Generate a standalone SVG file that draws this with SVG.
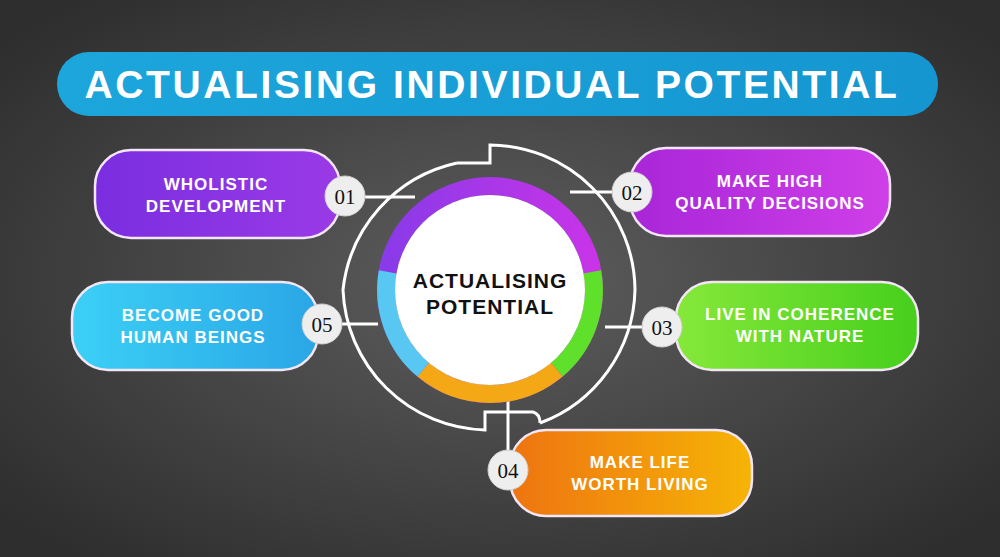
<svg xmlns="http://www.w3.org/2000/svg" width="1000" height="557" viewBox="0 0 1000 557">
<defs>
<radialGradient id="bg" cx="50%" cy="50%" r="65%"><stop offset="0" stop-color="#5e5e5e"/><stop offset="1" stop-color="#2e2e2e"/></radialGradient>
<linearGradient id="tb" x1="0" x2="1"><stop offset="0" stop-color="#1ca6dc"/><stop offset="1" stop-color="#1596d0"/></linearGradient>
<linearGradient id="g1" x1="0" x2="1"><stop offset="0" stop-color="#7a2ee0"/><stop offset="1" stop-color="#9a3ae6"/></linearGradient>
<linearGradient id="g2" x1="0" x2="1"><stop offset="0" stop-color="#a826d8"/><stop offset="1" stop-color="#cf3fe8"/></linearGradient>
<linearGradient id="g5" x1="0" x2="1"><stop offset="0" stop-color="#3bd0f6"/><stop offset="1" stop-color="#2aa6e6"/></linearGradient>
<linearGradient id="g3" x1="0" x2="1"><stop offset="0" stop-color="#86e83a"/><stop offset="1" stop-color="#46cf1c"/></linearGradient>
<linearGradient id="g4" x1="0" x2="1"><stop offset="0" stop-color="#ee7410"/><stop offset="1" stop-color="#f6b406"/></linearGradient>
<linearGradient id="rp" x1="0" x2="1"><stop offset="0" stop-color="#8a3ae8"/><stop offset="1" stop-color="#c834e8"/></linearGradient>
</defs>
<style>
.pill{stroke:#f3e6f6;stroke-width:2.5}
.lbl{font-family:"Liberation Sans",Arial,sans-serif;font-weight:bold;font-size:17px;fill:#fff;text-anchor:middle;letter-spacing:1px}
.num{fill:#eeeeee;stroke:#cfcfcf;stroke-width:1}
.nt{font-family:"Liberation Serif","Times New Roman",serif;font-size:21px;fill:#111;text-anchor:middle}
.ln{stroke:#fff;stroke-width:3;fill:none}
</style>
<rect width="1000" height="557" fill="url(#bg)"/>
<rect x="57" y="52" width="881" height="64" rx="32" fill="url(#tb)"/>
<text x="492" y="98" font-family="Liberation Sans,Arial,sans-serif" font-weight="bold" font-size="39" fill="#fff" text-anchor="middle" letter-spacing="2.6">ACTUALISING INDIVIDUAL POTENTIAL</text>

<g id="connectors" class="ln">
<path d="M457,163 L490,163 L490,145 A146,146 0 0 1 635,290 A146,146 0 0 1 540,423"/>
<path d="M457,163 A146,146 0 0 0 343,290 A146,146 0 0 0 485,430 L485,412 L533,412 Q540,414 540,423"/>
<line x1="365" y1="197" x2="415" y2="197"/>
<line x1="570" y1="192" x2="612" y2="192"/>
<line x1="342" y1="324" x2="378" y2="324"/>
<line x1="605" y1="327" x2="642" y2="327"/>
<line x1="508" y1="398" x2="508" y2="452"/>
</g>

<g id="center">
<circle cx="490" cy="290" r="104" fill="none" stroke="url(#rp)" stroke-width="18"/>
<path d="M592.3,271.9 A104,104 0 0 1 556.8,369.7" fill="none" stroke="#5fe02a" stroke-width="18"/>
<path d="M556.8,369.7 A104,104 0 0 1 423.2,369.7" fill="none" stroke="#f5a816" stroke-width="18"/>
<path d="M423.2,369.7 A104,104 0 0 1 387.7,271.9" fill="none" stroke="#58c8f2" stroke-width="18"/>
<circle cx="490" cy="290" r="95" fill="#fff"/>
<text class="lbl" x="490" y="288" style="fill:#111;font-size:21px">ACTUALISING</text>
<text class="lbl" x="490" y="314" style="fill:#111;font-size:21px">POTENTIAL</text>
</g>

<g id="n01">
<rect class="pill" x="95" y="150" width="245" height="88" rx="36" fill="url(#g1)"/>
<text class="lbl" x="216" y="190">WHOLISTIC</text><text class="lbl" x="216" y="212">DEVELOPMENT</text>
<circle class="num" cx="345" cy="196" r="20"/><text class="nt" x="345" y="204">01</text>
</g>
<g id="n02">
<rect class="pill" x="630" y="148" width="260" height="88" rx="36" fill="url(#g2)"/>
<text class="lbl" x="770" y="187">MAKE HIGH</text><text class="lbl" x="770" y="209">QUALITY DECISIONS</text>
<circle class="num" cx="632" cy="192" r="20"/><text class="nt" x="632" y="200">02</text>
</g>
<g id="n05">
<rect class="pill" x="72" y="282" width="246" height="88" rx="36" fill="url(#g5)"/>
<text class="lbl" x="193" y="321">BECOME GOOD</text><text class="lbl" x="193" y="343">HUMAN BEINGS</text>
<circle class="num" cx="322" cy="324" r="20"/><text class="nt" x="322" y="332">05</text>
</g>
<g id="n03">
<rect class="pill" x="676" y="282" width="242" height="88" rx="36" fill="url(#g3)"/>
<text class="lbl" x="800" y="320">LIVE IN COHERENCE</text><text class="lbl" x="800" y="342">WITH NATURE</text>
<circle class="num" cx="662" cy="327" r="20"/><text class="nt" x="662" y="335">03</text>
</g>
<g id="n04">
<rect class="pill" x="510" y="430" width="242" height="86" rx="36" fill="url(#g4)"/>
<text class="lbl" x="640" y="468">MAKE LIFE</text><text class="lbl" x="640" y="490">WORTH LIVING</text>
<circle class="num" cx="508" cy="470" r="20"/><text class="nt" x="508" y="478">04</text>
</g>
</svg>
